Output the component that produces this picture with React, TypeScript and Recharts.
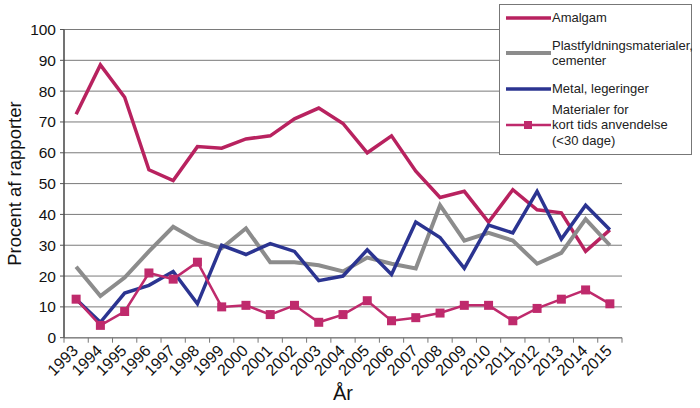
import React from 'react';
import { LineChart, Line, XAxis, YAxis, CartesianGrid } from 'recharts';

const YEARS = [
  1993, 1994, 1995, 1996, 1997, 1998, 1999, 2000, 2001, 2002, 2003, 2004,
  2005, 2006, 2007, 2008, 2009, 2010, 2011, 2012, 2013, 2014, 2015,
];

const AMALGAM = [
  72.5, 88.5, 78, 54.5, 51, 62, 61.5, 64.5, 65.5, 71, 74.5, 69.5, 60, 65.5,
  54, 45.5, 47.5, 37.5, 48, 41.5, 40.5, 28, 35,
];
const PLAST = [
  23, 13.5, 19.5, 28, 36, 31.5, 29, 35.5, 24.5, 24.5, 23.5, 21.5, 26, 24,
  22.5, 43, 31.5, 34, 31.5, 24, 27.5, 38.5, 30,
];
const METAL = [
  12.5, 5, 14.5, 17, 21.5, 11, 30, 27, 30.5, 28, 18.5, 20, 28.5, 20.5, 37.5,
  32.5, 22.5, 36.5, 34, 47.5, 32, 43, 35,
];
const KORT = [
  12.5, 4, 8.5, 21, 19, 24.5, 10, 10.5, 7.5, 10.5, 5, 7.5, 12, 5.5, 6.5, 8,
  10.5, 10.5, 5.5, 9.5, 12.5, 15.5, 11,
];

const Y_TICKS = [0, 10, 20, 30, 40, 50, 60, 70, 80, 90, 100];
// year ticks plus the band edges between them (Excel style tick marks)
const X_TICKS = [1992.5, ...YEARS.flatMap((y) => [y, y + 0.5])];

const SERIES = [
  { key: 'amalgam', name: 'Amalgam', color: '#b8225f', width: 3.5, marker: false },
  { key: 'plast', name: 'Plastfyldningsmaterialer,\ncementer', color: '#8c8c8c', width: 4, marker: false },
  { key: 'metal', name: 'Metal, legeringer', color: '#2b3491', width: 3.5, marker: false },
  { key: 'kort', name: 'Materialer for\nkort tids anvendelse\n(<30 dage)', color: '#bf2a6c', width: 2.5, marker: true },
];
// vertical centre of each legend entry inside the box
const LEGEND_Y = [13, 48, 84, 120];

const data = YEARS.map((year, i) => ({
  year,
  amalgam: AMALGAM[i],
  plast: PLAST[i],
  metal: METAL[i],
  kort: KORT[i],
}));

const FONT = '"Liberation Sans", Arial, sans-serif';

const YearTick = (props: any) => {
  const { x, y, payload } = props;
  const v = payload.value;
  if (v % 1 !== 0) {
    return <line x1={x} x2={x} y1={y - 6} y2={y - 1} stroke="#777" />;
  }
  return (
    <text
      x={x + 3}
      y={y + 8}
      transform={`rotate(-45 ${x + 3} ${y + 8})`}
      textAnchor="end"
      fontSize={16}
      fontFamily={FONT}
      fill="#111"
    >
      {v}
    </text>
  );
};

const LegendBox = () => (
  <div
    style={{
      position: 'absolute',
      left: 499,
      top: 4,
      width: 193,
      height: 151,
      border: '1px solid #777',
      background: '#fff',
      fontFamily: FONT,
      fontSize: 13,
      color: '#222',
      boxSizing: 'border-box',
    }}
  >
    {SERIES.map((s, i) => (
      <div
        key={s.key}
        style={{
          position: 'absolute',
          left: 6,
          top: LEGEND_Y[i] - 30,
          height: 60,
          display: 'flex',
          alignItems: 'center',
        }}
      >
        <svg width={45} height={12} style={{ flexShrink: 0, marginRight: 1 }}>
          <line x1={0} x2={45} y1={6} y2={6} stroke={s.color} strokeWidth={s.width} />
          {s.marker && <rect x={18} y={2} width={8} height={8} fill={s.color} />}
        </svg>
        <div style={{ lineHeight: '15.5px', whiteSpace: 'pre' }}>{s.name}</div>
      </div>
    ))}
  </div>
);

const SquareDot = (props: any) => {
  const { cx, cy, stroke } = props;
  if (cx == null || cy == null) return null;
  return <rect x={cx - 4.5} y={cy - 4.5} width={9} height={9} fill={stroke} />;
};

export default function App() {
  return (
    <div style={{ position: 'absolute', left: 0, top: 0, width: 700, height: 408, background: '#fff' }}>
      <LineChart
        width={700}
        height={408}
        data={data}
        margin={{ top: 29.5, right: 78, bottom: 0, left: 0 }}
      >
        <CartesianGrid vertical={false} stroke="#7a7a7a" strokeWidth={1} />
        <XAxis
          type="number"
          dataKey="year"
          domain={[1992.5, 2015.5]}
          ticks={X_TICKS}
          interval={0}
          tick={<YearTick />}
          tickLine={false}
          tickSize={6}
          tickMargin={0}
          axisLine={{ stroke: '#888', strokeWidth: 1.5 }}
          height={70.3}
          label={{
            value: 'År',
            position: 'insideBottom',
            offset: 8,
            fontSize: 20,
            fontFamily: FONT,
            fill: '#111',
          }}
        />
        <YAxis
          domain={[0, 100]}
          ticks={Y_TICKS}
          interval={0}
          width={64}
          tick={{ fontSize: 15.5, fontFamily: FONT, fill: '#111' }}
          tickLine={{ stroke: '#555' }}
          tickSize={4}
          tickMargin={4}
          axisLine={{ stroke: '#444', strokeWidth: 1.5 }}
          label={{
            value: 'Procent af rapporter',
            angle: -90,
            position: 'insideLeft',
            offset: 14,
            style: { textAnchor: 'middle' },
            fontSize: 18.5,
            fontFamily: FONT,
            fill: '#111',
          }}
        />
        {SERIES.map((s) => (
          <Line
            key={s.key}
            type="linear"
            dataKey={s.key}
            name={s.name}
            stroke={s.color}
            strokeWidth={s.width}
            dot={s.marker ? <SquareDot /> : false}
            activeDot={false}
            isAnimationActive={false}
          />
        ))}
      </LineChart>
      <LegendBox />
    </div>
  );
}
